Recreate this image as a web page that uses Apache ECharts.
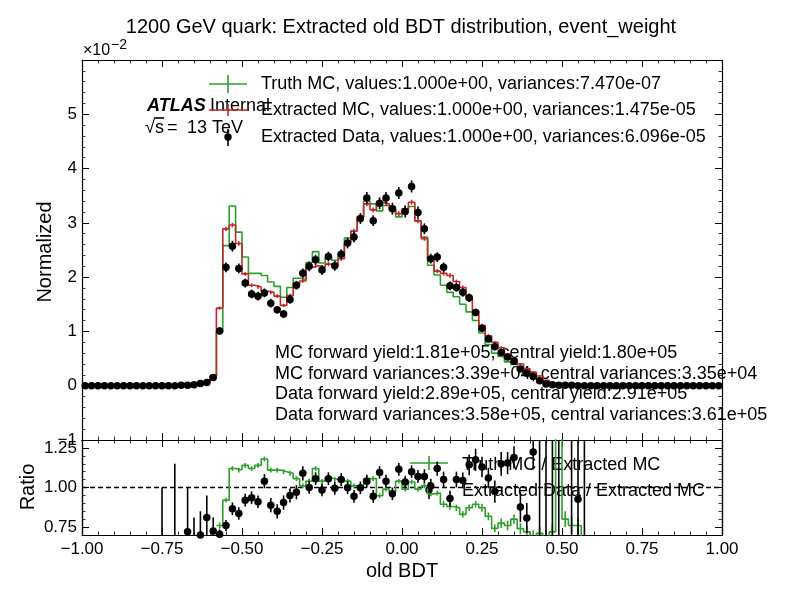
<!DOCTYPE html>
<html>
<head>
<meta charset="utf-8">
<script src="https://cdn.jsdelivr.net/npm/echarts@6/dist/echarts.min.js"></script>
<style>
html, body { margin: 0; padding: 0; background: #fff; }
#container { width: 799px; height: 599px; }
</style>
</head>
<body>
<div id="container"></div>
<script>
// binning of the histogram
const binLow = -1.0;
const binWidth = 0.02;
const nBins = 100;

// top panel, values in units of 1e-2
const truthMC = [
    0, 0, 0, 0, 0, 0, 0, 0, 0, 0,
    0, 0, 0, 0, 0, 0.01, 0.01, 0.02, 0.03, 0.06,
    0.18, 1.00, 2.58, 3.31, 2.83, 2.37, 2.07, 2.07, 2.03, 1.91,
    1.83, 1.63, 1.81, 1.98, 1.96, 2.27, 2.47, 2.26, 2.37, 2.31,
    2.42, 2.72, 2.85, 3.11, 3.40, 3.35, 3.22, 3.32, 3.29, 3.11,
    3.24, 3.30, 3.03, 2.74, 2.22, 2.04, 1.85, 1.72, 1.64, 1.50,
    1.36, 1.20, 0.97, 0.76, 0.60, 0.54, 0.44, 0.39, 0.29, 0.22,
    0.17, 0.12, 0.07, 0.04, 0.04, 0.02, 0.01, 0.01, 0, 0,
    0, 0, 0, 0, 0, 0, 0, 0, 0, 0,
    0, 0, 0, 0, 0, 0, 0, 0, 0, 0
];
const extractedMC = [
    0, 0, 0, 0, 0, 0, 0, 0, 0, 0,
    0, 0, 0, 0, 0, 0.01, 0.01, 0.02, 0.03, 0.06,
    0.18, 1.43, 2.89, 2.96, 2.62, 2.06, 1.85, 1.82, 1.74, 1.72,
    1.65, 1.48, 1.66, 1.88, 1.93, 2.18, 2.21, 2.18, 2.24, 2.21,
    2.34, 2.64, 2.85, 3.11, 3.35, 3.24, 3.38, 3.35, 3.24, 3.17,
    3.26, 3.38, 3.04, 2.71, 2.31, 2.11, 2.07, 2.03, 1.92, 1.81,
    1.60, 1.38, 1.11, 0.92, 0.80, 0.70, 0.58, 0.49, 0.40, 0.31,
    0.25, 0.18, 0.10, 0.05, 0.03, 0.02, 0.01, 0.01, 0, 0,
    0, 0, 0, 0, 0, 0, 0, 0, 0, 0,
    0, 0, 0, 0, 0, 0, 0, 0, 0, 0
];
const extractedMCErr = [
    0, 0, 0, 0, 0, 0, 0, 0, 0, 0,
    0, 0, 0, 0, 0, 0.005, 0.005, 0.01, 0.01, 0.01,
    0.02, 0.03, 0.04, 0.04, 0.04, 0.035, 0.035, 0.035, 0.035, 0.035,
    0.035, 0.03, 0.035, 0.035, 0.035, 0.04, 0.04, 0.04, 0.04, 0.04,
    0.04, 0.04, 0.04, 0.045, 0.045, 0.045, 0.045, 0.045, 0.045, 0.045,
    0.045, 0.045, 0.045, 0.04, 0.04, 0.04, 0.04, 0.04, 0.035, 0.035,
    0.035, 0.03, 0.03, 0.03, 0.025, 0.025, 0.02, 0.02, 0.02, 0.02,
    0.015, 0.015, 0.01, 0.01, 0.01, 0.005, 0.005, 0.005, 0, 0,
    0, 0, 0, 0, 0, 0, 0, 0, 0, 0,
    0, 0, 0, 0, 0, 0, 0, 0, 0, 0
];
const extractedData = [
    0, 0, 0, 0, 0, 0, 0, 0, 0, 0,
    0, 0, 0, 0, 0, 0.01, 0.01, 0.02, 0.04, 0.06,
    0.15, 1.01, 2.18, 2.57, 2.16, 1.89, 1.69, 1.65, 1.71, 1.52,
    1.40, 1.32, 1.59, 1.85, 2.07, 2.20, 2.32, 2.13, 2.38, 2.21,
    2.42, 2.63, 2.74, 3.08, 3.46, 3.04, 3.36, 3.46, 3.26, 3.55,
    3.21, 3.67, 3.19, 2.89, 2.34, 2.37, 2.18, 1.84, 1.81, 1.72,
    1.62, 1.35, 1.06, 0.86, 0.72, 0.61, 0.53, 0.45, 0.31, 0.23,
    0.17, 0.09, 0.03, 0.02, 0.01, 0.01, 0.01, 0, 0, 0,
    0, 0, 0, 0, 0, 0, 0, 0, 0, 0,
    0, 0, 0, 0, 0, 0, 0, 0, 0, 0
];
const extractedDataErr = [
    0.01, 0.01, 0.01, 0.01, 0.01, 0.01, 0.01, 0.01, 0.01, 0.01,
    0.01, 0.01, 0.01, 0.01, 0.01, 0.01, 0.01, 0.02, 0.02, 0.03,
    0.04, 0.07, 0.09, 0.10, 0.09, 0.08, 0.08, 0.08, 0.08, 0.08,
    0.07, 0.07, 0.08, 0.08, 0.09, 0.09, 0.09, 0.09, 0.09, 0.09,
    0.09, 0.10, 0.10, 0.10, 0.11, 0.10, 0.11, 0.11, 0.11, 0.11,
    0.11, 0.11, 0.11, 0.10, 0.09, 0.09, 0.09, 0.08, 0.08, 0.08,
    0.08, 0.07, 0.06, 0.06, 0.05, 0.05, 0.04, 0.04, 0.04, 0.03,
    0.03, 0.02, 0.02, 0.02, 0.01, 0.01, 0.01, 0.01, 0.01, 0.01,
    0.01, 0.01, 0.01, 0.01, 0.01, 0.01, 0.01, 0.01, 0.01, 0.01,
    0.01, 0.01, 0.01, 0.01, 0.01, 0.01, 0.01, 0.01, 0.01, 0.01
];

// ratio panel
const ratioTruth = [
    null, null, null, null, null, null, null, null, null, null,
    null, null, null, null, null, null, null, null, null, null,
    null, 0.76, 0.92, 1.12, 1.11, 1.14, 1.12, 1.14, 1.18, 1.11,
    1.11, 1.10, 1.09, 1.056, 1.01, 1.04, 1.12, 1.04, 1.06, 1.05,
    1.04, 1.04, 1.01, 1.00, 1.056, 1.056, 0.948, 0.99, 0.97, 1.04,
    0.99, 1.035, 0.99, 1.01, 0.96, 0.965, 0.894, 0.88, 0.872, 0.83,
    0.872, 0.894, 0.872, 0.818, 0.742, 0.775, 0.76, 0.80, 0.74, 0.72,
    0.69, 0.71, 0.68, 0.72, 1.5, 0.80, 0.76, 0.76, 0.5, null,
    null, null, null, null, null, null, null, null, null, null,
    null, null, null, null, null, null, null, null, null, null
];
const ratioTruthErr = [
    null, null, null, null, null, null, null, null, null, null,
    null, null, null, null, null, null, null, null, null, null,
    null, 0.02, 0.015, 0.015, 0.015, 0.015, 0.015, 0.015, 0.015, 0.015,
    0.015, 0.015, 0.015, 0.015, 0.015, 0.015, 0.015, 0.015, 0.015, 0.015,
    0.015, 0.015, 0.015, 0.015, 0.015, 0.015, 0.015, 0.015, 0.015, 0.015,
    0.015, 0.015, 0.015, 0.015, 0.015, 0.015, 0.02, 0.02, 0.02, 0.02,
    0.02, 0.02, 0.025, 0.025, 0.025, 0.03, 0.03, 0.03, 0.035, 0.035,
    0.04, 0.04, 0.05, 0.05, 0.05, 0.05, 0.05, 0.05, 0.05, null,
    null, null, null, null, null, null, null, null, null, null,
    null, null, null, null, null, null, null, null, null, null
];
const ratioData = [
    null, null, null, null, null, null, null, null, null, null,
    null, null, 0.0, null, 0.0, null, 0.72, 0.5, 0.70, 0.81,
    0.725, 0.705, 0.76, 0.866, 0.836, 0.92, 0.935, 0.91, 1.04, 0.888,
    0.85, 0.905, 0.95, 0.97, 1.09, 1.00, 1.056, 0.985, 1.056, 0.995,
    1.05, 0.998, 0.944, 0.998, 1.04, 0.944, 1.095, 1.04, 0.96, 1.115,
    1.035, 1.10, 1.07, 1.07, 1.01, 1.12, 1.05, 0.93, 1.05, 1.045,
    1.143, 1.175, 1.13, 1.06, 0.974, 1.15, 1.154, 1.19, 0.877, 0.807,
    1.225, 0.5, 0.3, 0.2, 0.4, null, 0.3, 0.926, 0.2, null,
    null, null, null, null, null, null, null, null, null, null,
    null, null, null, null, null, null, null, null, null, null
];
const ratioDataErr = [
    null, null, null, null, null, null, null, null, null, null,
    null, null, 1.0, null, 1.15, null, 0.28, 0.31, 0.15, 0.14,
    0.085, 0.03, 0.035, 0.04, 0.04, 0.04, 0.04, 0.04, 0.045, 0.045,
    0.045, 0.045, 0.045, 0.045, 0.045, 0.04, 0.04, 0.04, 0.04, 0.04,
    0.04, 0.04, 0.04, 0.04, 0.04, 0.04, 0.04, 0.04, 0.04, 0.04,
    0.04, 0.04, 0.04, 0.045, 0.045, 0.045, 0.05, 0.05, 0.05, 0.05,
    0.065, 0.07, 0.065, 0.065, 0.07, 0.075, 0.07, 0.07, 0.095, 0.095,
    0.11, 0.9, 1.1, 1.2, 1.0, null, 1.2, 0.8, 1.3, null,
    null, null, null, null, null, null, null, null, null, null,
    null, null, null, null, null, null, null, null, null, null
];
const ratioMajorTicks = [0.75, 1.00, 1.25];

const legendLines = [
    'Truth MC, values:1.000e+00, variances:7.470e-07',
    'Extracted MC, values:1.000e+00, variances:1.475e-05',
    'Extracted Data, values:1.000e+00, variances:6.096e-05'
];
const yieldLines = [
    'MC forward yield:1.81e+05, central yield:1.80e+05',
    'MC forward variances:3.39e+04, central variances:3.35e+04',
    'Data forward yield:2.89e+05, central yield:2.91e+05',
    'Data forward variances:3.58e+05, central variances:3.61e+05'
];
const ratioLegendLines = ['Truth MC / Extracted MC', 'Extracted Data / Extracted MC'];

const green = '#2f9e2f';
const red = '#bb2a2a';
const font = '"Liberation Sans", Arial, sans-serif';

let edges = [];
let centers = [];
for (let i = 0; i <= nBins; i++) edges.push(binLow + i * binWidth);
for (let i = 0; i < nBins; i++) centers.push(binLow + (i + 0.5) * binWidth);

function stepData(vals, from, to) {
    let d = [];
    for (let i = from; i <= to; i++) d.push([edges[i], vals[i]]);
    d.push([edges[to + 1], vals[to]]);
    return d;
}

function points(vals) {
    let d = [];
    vals.forEach((v, i) => { if (v !== null) d.push([centers[i], v]); });
    return d;
}

function errorSeries(vals, errs, color, axis, z) {
    let d = [];
    vals.forEach((v, i) => {
        if (v !== null && errs[i] !== null && errs[i] > 0) d.push([centers[i], v - errs[i], v + errs[i]]);
    });
    return {
        type: 'custom', xAxisIndex: axis, yAxisIndex: axis, clip: true, silent: true, z: z,
        data: d,
        encode: { x: 0, y: [1, 2] },
        renderItem: (params, api) => {
            let lo = api.coord([api.value(0), api.value(1)]);
            let hi = api.coord([api.value(0), api.value(2)]);
            return {
                type: 'line',
                shape: { x1: lo[0], y1: lo[1], x2: hi[0], y2: hi[1] },
                style: { stroke: color, lineWidth: 1.6 }
            };
        }
    };
}

function axis(extra) {
    return Object.assign({
        type: 'value',
        axisLine: { show: true, onZero: false, lineStyle: { color: '#000', width: 1.2 } },
        axisTick: { show: true, inside: true, length: 7, lineStyle: { color: '#000', width: 1 } },
        minorTick: { show: true, splitNumber: 5, length: 3.5, lineStyle: { color: '#000', width: 0.8 } },
        splitLine: { show: false },
        minorSplitLine: { show: false },
        axisLabel: { show: false }
    }, extra);
}

function labelStyle(extra) {
    return Object.assign({
        show: true, color: '#000', fontSize: 17, fontFamily: font,
        showMinLabel: true, showMaxLabel: true, hideOverlap: false
    }, extra);
}

function minus(s) { return String(s).replace('-', '\u2212'); }

function text(str, x, y, size, extra) {
    return Object.assign({
        type: 'text', x: x, y: y, silent: true,
        style: {
            text: str, x: 0, y: 0, fill: '#000',
            font: size + 'px ' + font,
            textAlign: 'left', textVerticalAlign: 'middle'
        }
    }, extra);
}

function seg(x1, y1, x2, y2, color) {
    return { type: 'line', silent: true, shape: { x1: x1, y1: y1, x2: x2, y2: y2 }, style: { stroke: color, lineWidth: 1.6 } };
}

let chart = echarts.init(document.getElementById('container'));

let graphics = [
    { type: 'text', x: 401, y: 27, silent: true,
      style: { text: '1200 GeV quark: Extracted old BDT distribution, event_weight', x: 0, y: 0, fill: '#000', font: '20px ' + font, textAlign: 'center', textVerticalAlign: 'middle' } },
    text('\u00d710', 83, 51, 16),
    text('\u22122', 111, 45, 14),
    { type: 'text', x: 147, y: 106, silent: true,
      style: { text: 'ATLAS', x: 0, y: 0, fill: '#000', font: 'italic bold 18px ' + font, textAlign: 'left', textVerticalAlign: 'middle' } },
    text('Internal', 210, 106, 18),
    text('\u221a', 145, 128, 18),
    seg(154, 118, 164, 118, '#000'),
    text('s', 155, 128, 18),
    text('=', 167, 128, 18),
    text('13 TeV', 187, 128, 18),
    // legend markers
    seg(209, 84, 247, 84, green), seg(228, 75, 228, 93, green),
    seg(209, 110, 247, 110, red), seg(228, 104, 228, 116, red),
    seg(228, 129, 228, 146, '#000'),
    { type: 'circle', silent: true, shape: { cx: 228, cy: 137, r: 3.7 }, style: { fill: '#000' } },
    seg(410, 463, 448, 463, green), seg(429, 456, 429, 470, green),
    seg(429, 482, 429, 499, '#000'),
    { type: 'circle', silent: true, shape: { cx: 429, cy: 490, r: 3.7 }, style: { fill: '#000' } },
    // axis titles
    { type: 'text', x: 45, y: 252, rotation: Math.PI / 2, silent: true,
      style: { text: 'Normalized', x: 0, y: 0, fill: '#000', font: '20px ' + font, textAlign: 'center', textVerticalAlign: 'middle' } },
    { type: 'text', x: 28, y: 487, rotation: Math.PI / 2, silent: true,
      style: { text: 'Ratio', x: 0, y: 0, fill: '#000', font: '20px ' + font, textAlign: 'center', textVerticalAlign: 'middle' } },
    { type: 'text', x: 402, y: 571, silent: true,
      style: { text: 'old BDT', x: 0, y: 0, fill: '#000', font: '20px ' + font, textAlign: 'center', textVerticalAlign: 'middle' } }
];
legendLines.forEach((s, i) => graphics.push(text(s, 261, 84 + i * 26.5, 18)));
yieldLines.forEach((s, i) => graphics.push(text(s, 275, 353 + i * 20.7, 18)));
ratioLegendLines.forEach((s, i) => graphics.push(text(s, 462, 465 + i * 26, 18)));

let option = {
    animation: false,
    textStyle: { fontFamily: font },
    grid: [
        { left: 82, top: 60, width: 640, height: 380, outerBoundsMode: 'none', containLabel: false },
        { left: 82, top: 440, width: 640, height: 95, outerBoundsMode: 'none', containLabel: false }
    ],
    xAxis: [
        axis({ gridIndex: 0, position: 'bottom', min: -1, max: 1, interval: 0.25 }),
        axis({ gridIndex: 0, position: 'top', min: -1, max: 1, interval: 0.25 }),
        axis({ gridIndex: 1, position: 'bottom', min: -1, max: 1, interval: 0.25,
               axisLabel: labelStyle({ margin: 6, formatter: v => minus(v.toFixed(2)) }) }),
        axis({ gridIndex: 1, position: 'top', min: -1, max: 1, interval: 0.25 })
    ],
    yAxis: [
        axis({ gridIndex: 0, position: 'left', min: -1, max: 6, interval: 1,
               axisLabel: labelStyle({ margin: 5, formatter: v => (v >= 6 ? '' : minus(v)) }) }),
        axis({ gridIndex: 0, position: 'right', min: -1, max: 6, interval: 1 }),
        axis({ gridIndex: 1, position: 'left', min: 0.7, max: 1.3,
               axisTick: { show: true, inside: true, length: 7, customValues: ratioMajorTicks, lineStyle: { color: '#000', width: 1 } },
               minorTick: { show: false },
               axisLabel: labelStyle({ margin: 5, customValues: ratioMajorTicks, formatter: v => v.toFixed(2) }) }),
        axis({ gridIndex: 1, position: 'left', min: 0.7, max: 1.3, interval: 0.05,
               axisTick: { show: true, inside: true, length: 3.5, lineStyle: { color: '#000', width: 0.8 } },
               minorTick: { show: false } }),
        axis({ gridIndex: 1, position: 'right', min: 0.7, max: 1.3,
               axisTick: { show: true, inside: true, length: 7, customValues: ratioMajorTicks, lineStyle: { color: '#000', width: 1 } },
               minorTick: { show: false } }),
        axis({ gridIndex: 1, position: 'right', min: 0.7, max: 1.3, interval: 0.05,
               axisTick: { show: true, inside: true, length: 3.5, lineStyle: { color: '#000', width: 0.8 } },
               minorTick: { show: false } })
    ],
    graphic: graphics,
    series: [
        {
            name: 'Truth MC', type: 'line', xAxisIndex: 0, yAxisIndex: 0, step: 'end',
            data: stepData(truthMC, 0, nBins - 1), symbol: 'none', silent: true, z: 2,
            lineStyle: { color: green, width: 1.6 }
        },
        {
            name: 'Extracted MC', type: 'line', xAxisIndex: 0, yAxisIndex: 0, step: 'end',
            data: stepData(extractedMC, 0, nBins - 1), symbol: 'none', silent: true, z: 3,
            lineStyle: { color: red, width: 1.6 }
        },
        errorSeries(extractedMC, extractedMCErr, red, 0, 3),
        errorSeries(extractedData, extractedDataErr, '#000', 0, 4),
        {
            name: 'Extracted Data', type: 'scatter', xAxisIndex: 0, yAxisIndex: 0,
            data: points(extractedData), symbol: 'circle', symbolSize: 7.5, silent: true, z: 5,
            itemStyle: { color: '#000', opacity: 1 }
        },
        {
            type: 'line', xAxisIndex: 2, yAxisIndex: 2, data: [[-1, 1], [1, 1]], symbol: 'none', silent: true, z: 1,
            lineStyle: { color: '#000', width: 1.3, type: [5, 3] }
        },
        {
            name: 'Truth MC / Extracted MC', type: 'line', xAxisIndex: 2, yAxisIndex: 2, step: 'end',
            data: stepData(ratioTruth, 21, 78), symbol: 'none', silent: true, z: 2,
            lineStyle: { color: green, width: 1.6 }
        },
        errorSeries(ratioTruth, ratioTruthErr, green, 2, 2),
        errorSeries(ratioData, ratioDataErr, '#000', 2, 4),
        {
            name: 'Extracted Data / Extracted MC', type: 'scatter', xAxisIndex: 2, yAxisIndex: 2,
            data: points(ratioData), symbol: 'circle', symbolSize: 7.5, silent: true, z: 5,
            itemStyle: { color: '#000', opacity: 1 }
        }
    ]
};
chart.setOption(option);
</script>
</body>
</html>
